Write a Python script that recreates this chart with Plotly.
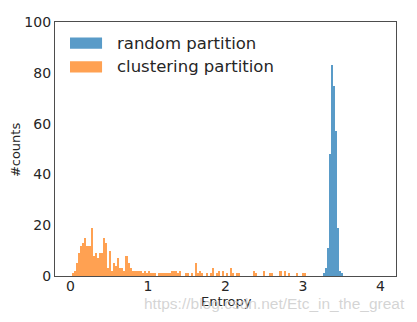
import numpy as np
import plotly.graph_objects as go

# Histogram counts per bin (entropy of each partition)
random_bin_start = 3.252
random_bin_width = 0.0262
random_counts = [1, 3, 11, 48, 83, 75, 57, 19, 2, 1]

clustering_bin_start = 0.02
clustering_bin_width = 0.0265
clustering_counts = [
    1, 2, 5, 9, 12, 13, 15, 12, 12, 19,
    8, 9, 7, 9, 9, 15, 13, 3, 10, 2,
    5, 4, 7, 3, 3, 2, 8, 5, 3, 2,
    2, 2, 2, 2, 1, 2, 1, 2, 1, 1,
    1, 0, 1, 1, 1, 1, 1, 1, 2, 2,
    2, 1, 2, 0, 0, 1, 1, 0, 1, 0,
    5, 1, 2, 1, 0, 1, 0, 1, 3, 0,
    1, 2, 0, 2, 0, 1, 0, 3, 1, 0,
    1, 1, 0, 0, 0, 0, 0, 0, 2, 1,
    0, 0, 0, 2, 0, 0, 1, 1, 0, 0,
    0, 2, 0, 2, 0, 1, 0, 0, 0, 1,
    0, 0, 1, 1,
]

x_ticks = [0, 1, 2, 3, 4]
y_ticks = [0, 20, 40, 60, 80, 100]

series_names = ["random partition", "clustering partition"]
series_colors = ["rgb(89,155,200)", "rgb(255,161,82)"]
text_color = "#262626"


def centers(start, width, n):
    return start + width * (np.arange(n) + 0.5)


fig = go.Figure()
fig.add_trace(go.Bar(
    x=centers(random_bin_start, random_bin_width, len(random_counts)),
    y=random_counts, width=random_bin_width,
    marker=dict(color=series_colors[0], line=dict(width=0)),
    name=series_names[0], showlegend=False,
))
fig.add_trace(go.Bar(
    x=centers(clustering_bin_start, clustering_bin_width, len(clustering_counts)),
    y=clustering_counts, width=clustering_bin_width,
    marker=dict(color=series_colors[1], line=dict(width=0)),
    name=series_names[1], showlegend=False,
))

# Legend drawn as wide patches with labels, top-left inside the axes
legend_font = dict(family="DejaVu Sans", size=16.5, color=text_color)
for i, (name, col) in enumerate(zip(series_names, series_colors)):
    y_mid = 0.917 - i * 0.094
    fig.add_shape(type="rect", xref="paper", yref="paper",
                  x0=0.044, x1=0.138, y0=y_mid - 0.022, y1=y_mid + 0.022,
                  fillcolor=col, line=dict(width=0))
    fig.add_annotation(xref="paper", yref="paper", x=0.176, y=y_mid,
                       text=name, showarrow=False, xanchor="left",
                       yanchor="middle", font=legend_font)

# Axis titles
title_font = dict(family="DejaVu Sans", size=13, color=text_color)
fig.add_annotation(xref="paper", yref="paper", x=0.502, y=-0.102,
                   text="Entropy", showarrow=False, xanchor="center",
                   yanchor="middle", font=title_font)
fig.add_annotation(xref="paper", yref="paper", x=-0.117, y=0.496,
                   text="#counts", showarrow=False, textangle=-90,
                   xanchor="center", yanchor="middle", font=title_font)

fig.add_annotation(xref="paper", yref="paper", x=0.644, y=-0.11,
                   text="https://blog.csdn.net/Etc_in_the_great",
                   showarrow=False, xanchor="center", yanchor="middle",
                   font=dict(family="Liberation Sans", size=15.5,
                             color="rgba(205,205,205,0.85)"))

axis_common = dict(
    showgrid=False, zeroline=False, showline=True, mirror=True,
    linecolor="#4d4d4d", linewidth=1.3, ticks="", automargin=False,
    tickfont=dict(family="DejaVu Sans", size=14, color=text_color),
)

fig.update_layout(
    width=417, height=322,
    margin=dict(l=55, r=21, t=22, b=46),
    paper_bgcolor="white", plot_bgcolor="white",
    barmode="overlay", bargap=0,
    xaxis=dict(range=[-0.2, 4.2], tickvals=x_ticks, ticklabelstandoff=-3,
               **axis_common),
    yaxis=dict(range=[0, 100], tickvals=y_ticks, **axis_common),
)

fig.write_html("out.html")
